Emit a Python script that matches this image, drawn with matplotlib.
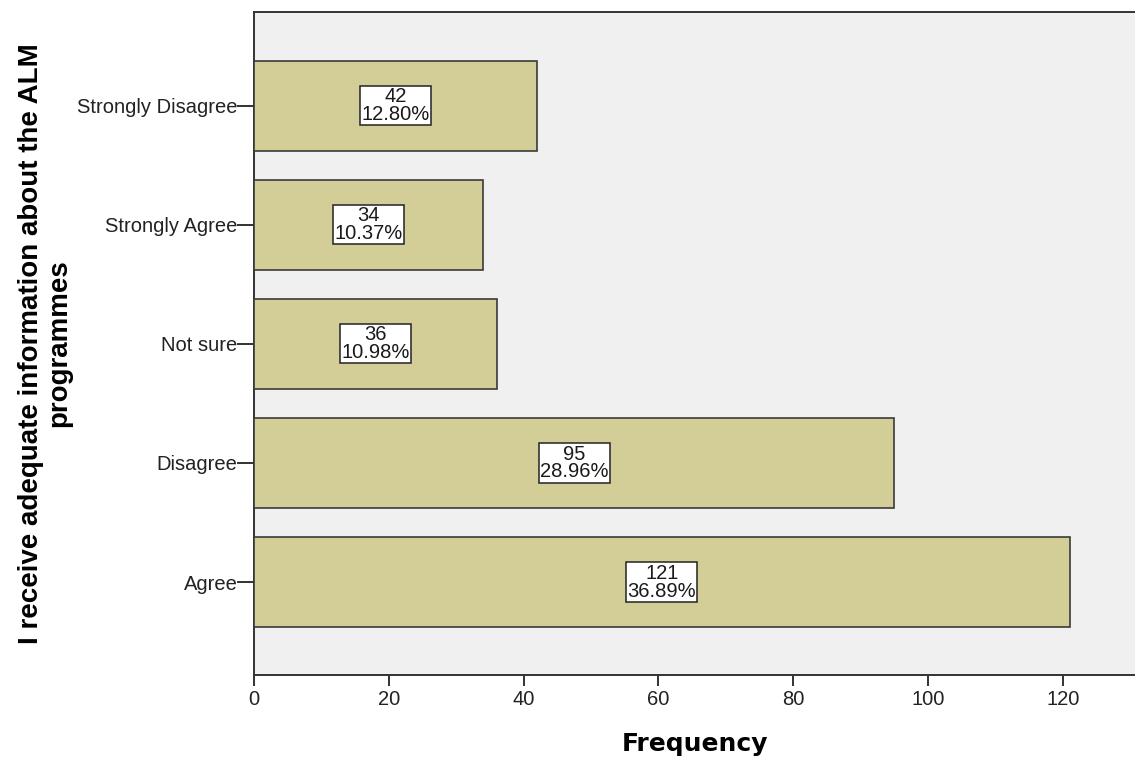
import matplotlib.pyplot as plt
import numpy as np

# response categories, bottom to top
categories = ['Agree', 'Disagree', 'Not sure', 'Strongly Agree', 'Strongly Disagree']
counts = [121, 95, 36, 34, 42]

total = sum(counts)
percents = [100.0 * c / total for c in counts]

plt.rcParams['font.family'] = ['Liberation Sans', 'DejaVu Sans']

fig = plt.figure(figsize=(11.35, 7.6), dpi=100)
ax = fig.add_axes([0.2238, 0.1118, 0.7762, 0.8724])
ax.set_facecolor('#f0f0f0')

pos = np.arange(len(categories))
ax.barh(pos, counts, height=0.755, color='#d3ce97', edgecolor='#3a3a3a', linewidth=1.2, zorder=3)

# count / percent box in the middle of each bar
for y, c, p in zip(pos, counts, percents):
    ax.text(c / 2, y, '%d\n%.2f%%' % (c, p), ha='center', va='center', fontsize=14.5,
            linespacing=0.92, zorder=4, color='#1a1a1a',
            bbox=dict(boxstyle='square,pad=0.06', facecolor='white', edgecolor='#222222', linewidth=1.1))

ax.set_xlim(0, 130.7)
ax.set_ylim(-0.78, 4.785)
ax.set_xticks([0, 20, 40, 60, 80, 100, 120])
ax.set_yticks(pos)
ax.set_yticklabels(categories)
ax.tick_params(axis='both', labelsize=14.5, colors='#222222', width=1.3)
ax.tick_params(axis='y', length=12, pad=0)
ax.tick_params(axis='x', length=8, pad=3)

for s in ['left', 'bottom', 'top']:
    ax.spines[s].set_color('#333333')
    ax.spines[s].set_linewidth(1.4)
ax.spines['right'].set_visible(False)

ax.set_xlabel('Frequency', fontsize=18, fontweight='bold', family='DejaVu Sans', labelpad=16)
ax.set_ylabel('I receive adequate information about the ALM\nprogrammes', fontsize=20,
              fontweight='bold', labelpad=3, linespacing=1.12)

fig.savefig('out.png', dpi=100)
